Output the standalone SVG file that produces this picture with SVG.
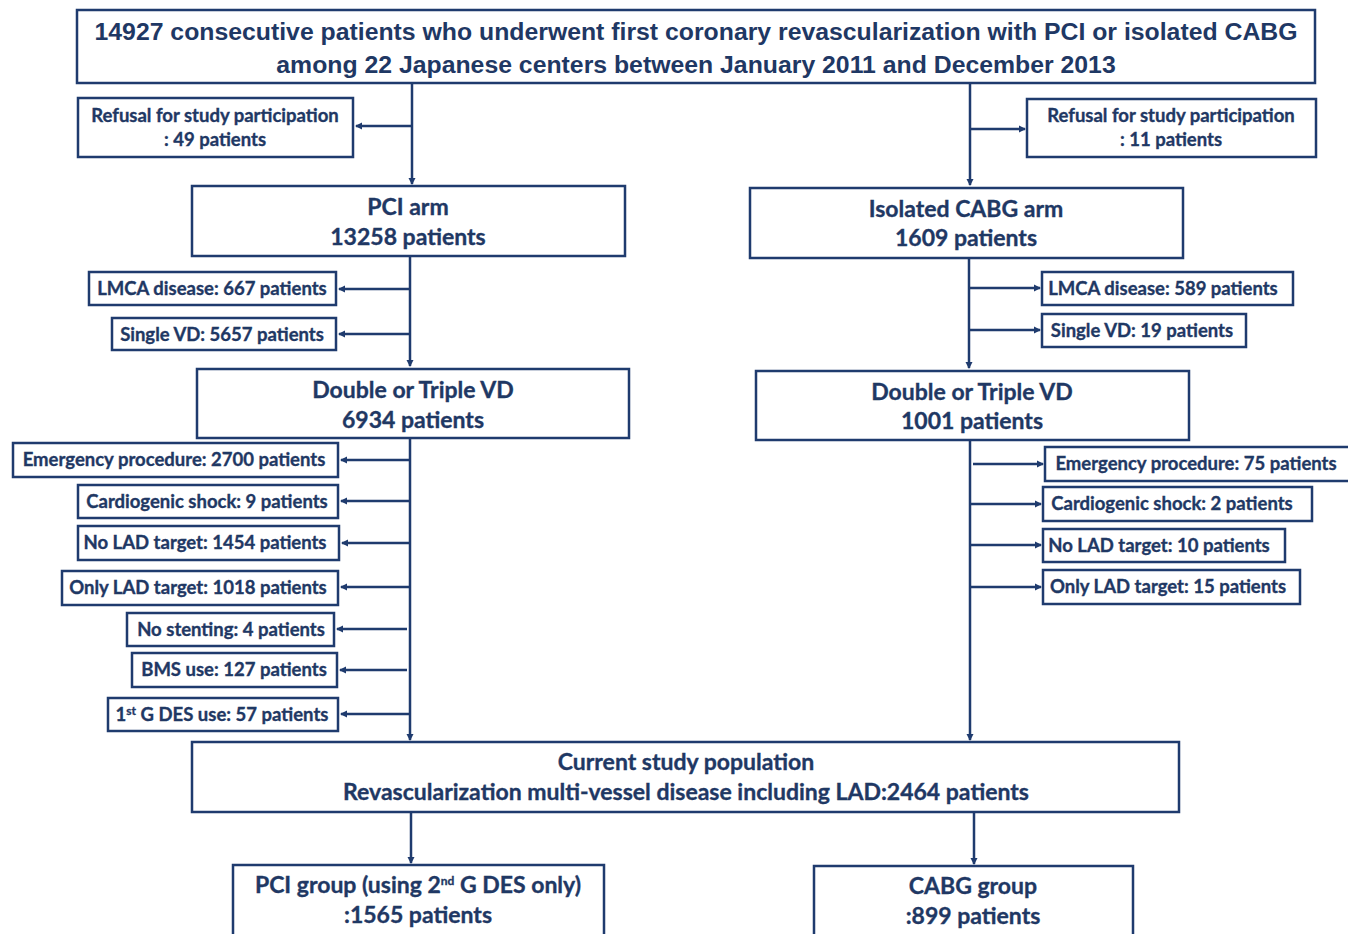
<svg xmlns="http://www.w3.org/2000/svg" width="1348" height="934" viewBox="0 0 1348 934">
<style>
.b{fill:#fff;stroke:#1f3b6e;stroke-width:2.5}
.t{font-family:Lato,"Open Sans",sans-serif;font-weight:bold;fill:#1f3864;stroke:#1f3864;stroke-width:0.35;text-anchor:middle}
.s{font-size:18.5px}
.m{font-size:23px}
.h{font-family:"Liberation Sans",Arial,sans-serif;font-weight:bold;font-size:24.8px;fill:#1f3864;text-anchor:middle}
.c{stroke:#1f3b6e;stroke-width:2.5;fill:none;marker-end:url(#a)}
.sup{font-size:12px}
</style>
<defs>
<marker id="a" markerWidth="8" markerHeight="8" refX="6" refY="4" orient="auto" markerUnits="userSpaceOnUse"><path d="M0,0.5 L7,4 L0,7.5 Z" fill="#1f3b6e"/></marker>
</defs>
<rect width="1348" height="934" fill="#fff"/>
<g id="connectors">
<path class="c" d="M412,83 V184"/>
<path class="c" d="M412,126 H356"/>
<path class="c" d="M970,83 V185"/>
<path class="c" d="M970,129 H1025"/>
<path class="c" d="M410,256 V366"/>
<path class="c" d="M410,289 H339"/>
<path class="c" d="M410,334 H339"/>
<path class="c" d="M969,258 V368"/>
<path class="c" d="M969,288 H1040"/>
<path class="c" d="M969,330 H1040"/>
<path class="c" d="M410,438 V740"/>
<path class="c" d="M410,460 H341"/>
<path class="c" d="M410,501 H341"/>
<path class="c" d="M410,543 H342"/>
<path class="c" d="M410,587 H341"/>
<path class="c" d="M407,629 H337"/>
<path class="c" d="M407,670 H340"/>
<path class="c" d="M410,714 H341"/>
<path class="c" d="M970,440 V740"/>
<path class="c" d="M973,464 H1043"/>
<path class="c" d="M970,504 H1041"/>
<path class="c" d="M970,545 H1041"/>
<path class="c" d="M970,587 H1041"/>
<path class="c" d="M411,812 V863"/>
<path class="c" d="M974,812 V864"/>
</g>
<g id="n-top"><rect class="b" x="77" y="10" width="1238" height="73"/>
<text class="h" x="696" y="40">14927 consecutive patients who underwent first coronary revascularization with PCI or isolated CABG</text>
<text class="h" x="696" y="73">among 22 Japanese centers between January 2011 and December 2013</text></g>
<g id="n-ref-l"><rect class="b" x="78" y="98" width="275" height="59"/>
<text class="t s" x="215" y="122">Refusal for study participation</text>
<text class="t s" x="215" y="146">: 49 patients</text></g>
<g id="n-ref-r"><rect class="b" x="1027" y="99" width="289" height="58"/>
<text class="t s" x="1171" y="122">Refusal for study participation</text>
<text class="t s" x="1171" y="146">: 11 patients</text></g>
<g id="n-pci"><rect class="b" x="192" y="186" width="433" height="70"/>
<text class="t m" x="408" y="215">PCI arm</text>
<text class="t m" x="408" y="245">13258 patients</text></g>
<g id="n-cabg"><rect class="b" x="750" y="188" width="433" height="70"/>
<text class="t m" x="966" y="217">Isolated CABG arm</text>
<text class="t m" x="966" y="246">1609 patients</text></g>
<g id="n-lmca-l"><rect class="b" x="89" y="272" width="247" height="33"/>
<text class="t s" x="212" y="295">LMCA disease: 667 patients</text></g>
<g id="n-svd-l"><rect class="b" x="112" y="318" width="224" height="32"/>
<text class="t s" x="222" y="341">Single VD: 5657 patients</text></g>
<g id="n-lmca-r"><rect class="b" x="1042" y="272" width="251" height="33"/>
<text class="t s" x="1163" y="295">LMCA disease: 589 patients</text></g>
<g id="n-svd-r"><rect class="b" x="1042" y="314" width="204" height="33"/>
<text class="t s" x="1142" y="337">Single VD: 19 patients</text></g>
<g id="n-dtv-l"><rect class="b" x="197" y="369" width="432" height="69"/>
<text class="t m" x="413" y="398">Double or Triple VD</text>
<text class="t m" x="413" y="428">6934 patients</text></g>
<g id="n-dtv-r"><rect class="b" x="756" y="371" width="433" height="69"/>
<text class="t m" x="972" y="400">Double or Triple VD</text>
<text class="t m" x="972" y="429">1001 patients</text></g>
<g id="n-em-l"><rect class="b" x="13" y="443" width="325" height="34"/>
<text class="t s" x="174" y="466">Emergency procedure: 2700 patients</text></g>
<g id="n-cs-l"><rect class="b" x="78" y="485" width="260" height="33"/>
<text class="t s" x="207" y="508">Cardiogenic shock: 9 patients</text></g>
<g id="n-nl-l"><rect class="b" x="78" y="526" width="261" height="34"/>
<text class="t s" x="205" y="549">No LAD target: 1454 patients</text></g>
<g id="n-ol-l"><rect class="b" x="62" y="571" width="276" height="34"/>
<text class="t s" x="198" y="594">Only LAD target: 1018 patients</text></g>
<g id="n-ns-l"><rect class="b" x="127" y="613" width="207" height="33"/>
<text class="t s" x="231" y="636">No stenting: 4 patients</text></g>
<g id="n-bms-l"><rect class="b" x="132" y="653" width="205" height="34"/>
<text class="t s" x="234" y="676">BMS use: 127 patients</text></g>
<g id="n-des-l"><rect class="b" x="108" y="698" width="230" height="33"/>
<text class="t s" x="222" y="721">1<tspan class="sup" dy="-6">st</tspan><tspan dy="6"> G DES use: 57 patients</tspan></text></g>
<g id="n-em-r"><rect class="b" x="1045" y="447" width="310" height="34"/>
<text class="t s" x="1196" y="470">Emergency procedure: 75 patients</text></g>
<g id="n-cs-r"><rect class="b" x="1043" y="487" width="269" height="34"/>
<text class="t s" x="1172" y="510">Cardiogenic shock: 2 patients</text></g>
<g id="n-nl-r"><rect class="b" x="1043" y="529" width="242" height="33"/>
<text class="t s" x="1159" y="552">No LAD target: 10 patients</text></g>
<g id="n-ol-r"><rect class="b" x="1043" y="570" width="257" height="34"/>
<text class="t s" x="1168" y="593">Only LAD target: 15 patients</text></g>
<g id="n-cur"><rect class="b" x="192" y="742" width="987" height="70"/>
<text class="t m" x="686" y="770">Current study population</text>
<text class="t m" x="686" y="800">Revascularization multi-vessel disease including LAD:2464 patients</text></g>
<g id="n-pcig"><rect class="b" x="233" y="865" width="371" height="80"/>
<text class="t m" x="418" y="893">PCI group (using 2<tspan class="sup" dy="-8">nd</tspan><tspan dy="8"> G DES only)</tspan></text>
<text class="t m" x="418" y="923">:1565 patients</text></g>
<g id="n-cabgg"><rect class="b" x="814" y="866" width="319" height="80"/>
<text class="t m" x="973" y="894">CABG group</text>
<text class="t m" x="973" y="924">:899 patients</text></g>
</svg>
